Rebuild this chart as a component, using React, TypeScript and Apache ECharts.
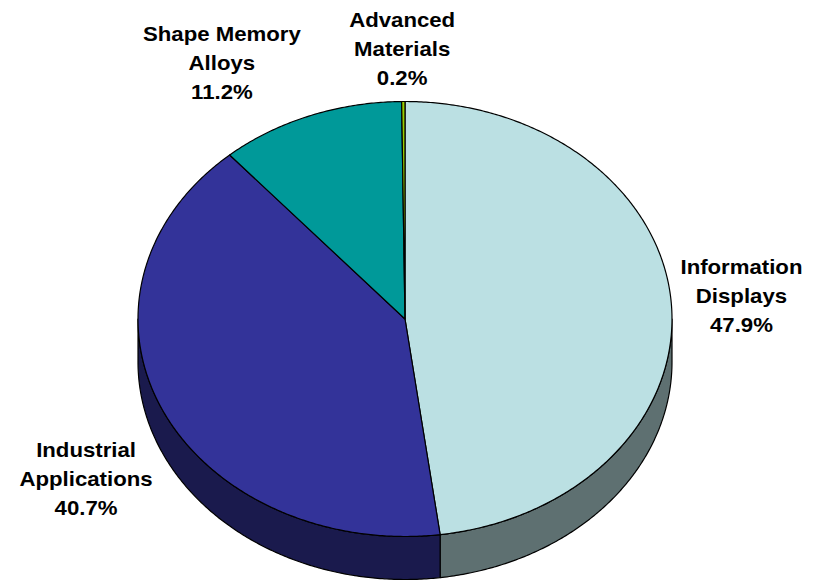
import React, { useEffect, useRef } from 'react';
import * as echarts from 'echarts';

// ---- data ----
const categories = ['Information\nDisplays', 'Industrial\nApplications', 'Shape Memory\nAlloys', 'Advanced\nMaterials'];
const shares = [47.9, 40.7, 11.2, 0.2];
const topColors = ['#BBE0E3', '#333399', '#009999', '#99CC00'];
const sideColors = ['#5E7071', '#1A1A4D', '#004D4D', '#4D6600'];

// ---- layout ----
const CX = 405;
const CY = 319;
const RX = 267;
const RY = 217.5;
const DEPTH = 43;
const FONT_SIZE = 20;
const TEXT_SX = 1.11;
const FONT_FAMILY = '"Liberation Sans", Arial, Helvetica, sans-serif';
const LINE_H = 29;
const GAP = 9;

let measureCtx: CanvasRenderingContext2D | null = null;
function measure(text: string) {
  if (!measureCtx) measureCtx = document.createElement('canvas').getContext('2d');
  const ctx = measureCtx as CanvasRenderingContext2D;
  ctx.font = `bold ${FONT_SIZE}px ${FONT_FAMILY}`;
  const lines = text.split('\n');
  return { w: Math.max(...lines.map((l) => ctx.measureText(l).width)) * TEXT_SX, h: lines.length * LINE_H };
}

function pt(deg: number, dy = 0): number[] {
  const r = (deg * Math.PI) / 180;
  return [CX + RX * Math.sin(r), CY - RY * Math.cos(r) + dy];
}

function arcPoints(a0: number, a1: number, dy = 0): number[][] {
  const n = Math.max(2, Math.ceil((a1 - a0) / 0.5));
  const out: number[][] = [];
  for (let i = 0; i <= n; i++) out.push(pt(a0 + ((a1 - a0) * i) / n, dy));
  return out;
}

const clamp = (t: number) => Math.max(-1, Math.min(1, t));

export default function App() {
  const ref = useRef<HTMLDivElement>(null);
  useEffect(() => {
    if (!ref.current) return;
    const chart = echarts.init(ref.current, null, { renderer: 'svg' });
    const total = shares.reduce((a, b) => a + b, 0);
    const cum: number[] = [];
    shares.reduce((acc, v, i) => {
      cum[i] = acc;
      return acc + v;
    }, 0);
    const data = shares.map((v, i) => [v, cum[i], total]);

    chart.setOption({
      animation: false,
      backgroundColor: '#ffffff',
      series: [
        {
          type: 'custom',
          coordinateSystem: 'none',
          data,
          renderItem: (params: any, api: any) => {
            const i = params.dataIndex;
            const v = api.value(0);
            const before = api.value(1);
            const tot = api.value(2);
            const a0 = (before / tot) * 360;
            const a1 = ((before + v) / tot) * 360;
            const children: any[] = [];

            // side wall (front half only)
            const s0 = Math.max(a0, 90);
            const s1 = Math.min(a1, 270);
            if (s1 > s0) {
              const upper = arcPoints(s0, s1, 0);
              const lower = arcPoints(s0, s1, DEPTH).reverse();
              children.push({
                type: 'polygon',
                z2: 1,
                shape: { points: upper.concat(lower) },
                style: { fill: sideColors[i], stroke: '#000', lineWidth: 1.2, lineJoin: 'round' },
              });
            }

            // top face
            const top = [[CX, CY]].concat(arcPoints(a0, a1, 0));
            children.push({
              type: 'polygon',
              z2: 10,
              shape: { points: top },
              style: { fill: topColors[i], stroke: '#000', lineWidth: 1.2, lineJoin: 'round' },
            });

            // label
            const text = `${categories[i]}\n${((v / tot) * 100).toFixed(1)}%`;
            const { w, h } = measure(text);
            const mid = ((a0 + a1) / 2) * (Math.PI / 180);
            const sn = Math.sin(mid);
            const cs = Math.cos(mid);
            const p = pt((a0 + a1) / 2, Math.max(0, -cs) * DEPTH);
            const lx = p[0] + clamp(sn * 3) * (w / 2 + GAP);
            const ly = p[1] - clamp(cs * 2.5) * (h / 2 + GAP);
            children.push({
              type: 'text',
              z2: 30,
              x: lx,
              y: ly,
              scaleX: TEXT_SX,
              style: {
                text,
                x: 0,
                y: 0,
                align: 'center',
                verticalAlign: 'middle',
                fontSize: FONT_SIZE,
                fontWeight: 'bold',
                fontFamily: FONT_FAMILY,
                lineHeight: LINE_H,
                fill: '#000',
              },
            });

            return { type: 'group', children };
          },
        },
      ],
    });
    return () => chart.dispose();
  }, []);

  return (
    <div
      ref={ref}
      style={{ position: 'fixed', left: 0, top: 0, width: 820, height: 582, background: '#fff' }}
    />
  );
}
